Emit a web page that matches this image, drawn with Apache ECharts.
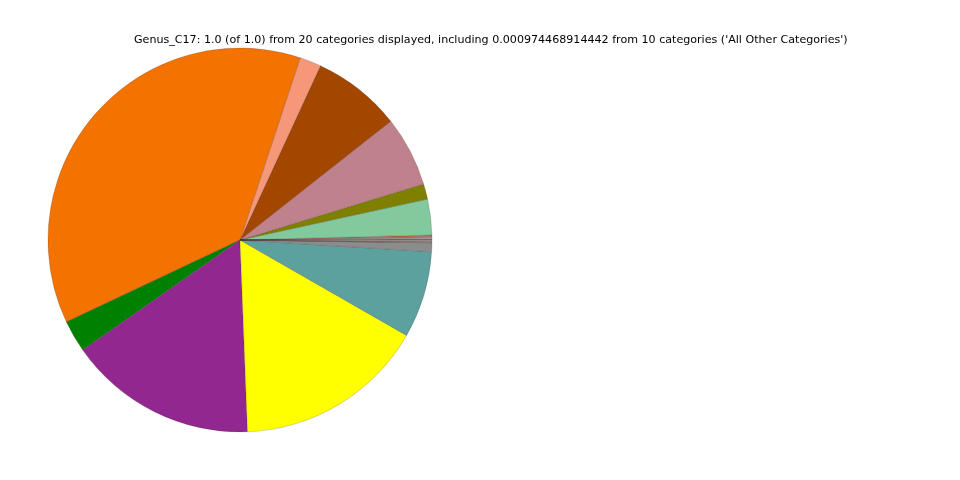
<!DOCTYPE html>
<html>
<head>
<meta charset="utf-8">
<script src="https://cdn.jsdelivr.net/npm/echarts@6/dist/echarts.min.js"></script>
<style>html,body{margin:0;padding:0;background:#fff;}#c{width:960px;height:480px;}</style>
</head>
<body>
<div id="c"></div>
<script>
const titleText = "Genus_C17: 1.0 (of 1.0) from 20 categories displayed, including 0.000974468914442 from 10 categories ('All Other Categories')";
const categories = [
  "Genus_A","Genus_B","Genus_C","Genus_D",
  "Genus_E","Genus_F","Genus_G","Genus_H","Genus_I","Genus_J","Genus_K","Genus_L","Genus_M","Genus_N","Genus_O",
  "Genus_P","Genus_Q","Genus_R","Genus_S","All Other Categories"
];
const values = [
  0.0010, 0.0008, 0.0012, 0.0012,
  0.030, 0.013, 0.059, 0.075, 0.018, 0.371, 0.027, 0.159, 0.161, 0.073, 0.0074,
  0.0004, 0.0003, 0.0003, 0.0004, 0.000974468914442
];
const colors = [
  "#7f7f9f", "#c0c0c0", "#8b8b8b", "#c0704a",
  "#82ca9d", "#808000", "#bf818c", "#a34700", "#f7977a", "#f37200", "#008000", "#92278f", "#ffff00", "#5da19f", "#8c8c8c",
  "#f7977a", "#c8c8c8", "#f37200", "#b0b0b0", "#a0a0a0"
];

const chart = echarts.init(document.getElementById('c'));
chart.setOption({
  animation: false,
  title: {
    text: titleText,
    left: 129,
    top: 30,
    textStyle: {fontFamily: 'DejaVu Sans', fontSize: 11.1, fontWeight: 'normal', color: '#000'}
  },
  series: [{
    type: 'pie',
    center: [240, 240],
    radius: [0, 192],
    startAngle: 0,
    clockwise: false,
    minAngle: 0,
    avoidLabelOverlap: false,
    label: {show: false},
    labelLine: {show: false},
    itemStyle: {borderColor: 'rgba(60,40,40,0.5)', borderWidth: 0.4},
    emphasis: {disabled: true},
    data: categories.map((n, i) => ({name: n, value: values[i], itemStyle: {color: colors[i]}}))
  }]
});
</script>
</body>
</html>
